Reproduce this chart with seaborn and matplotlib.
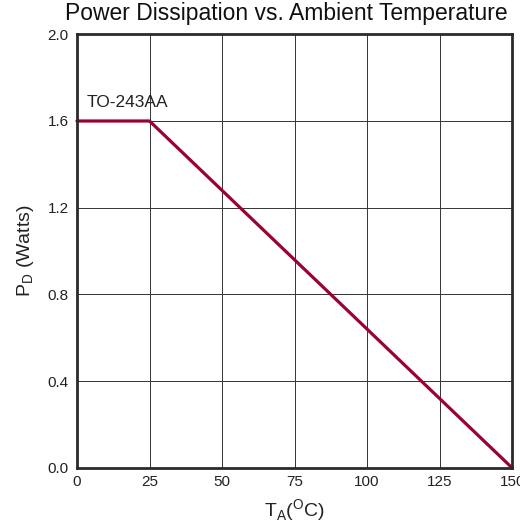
import pandas as pd
import matplotlib
matplotlib.use('Agg')
import matplotlib.pyplot as plt
import seaborn as sns

# derating curve
temp_c = [0, 25, 150]
power_w = [1.6, 1.6, 0.0]
x_ticks = [0, 25, 50, 75, 100, 125, 150]
y_ticks = [0.0, 0.4, 0.8, 1.2, 1.6, 2.0]

df = pd.DataFrame({'temp': temp_c, 'power': power_w})

sns.set_style('white')
plt.rcParams['font.family'] = ['Liberation Sans', 'DejaVu Sans']
plt.rcParams['mathtext.fontset'] = 'custom'
plt.rcParams['mathtext.rm'] = 'Liberation Sans'

fig = plt.figure(figsize=(5.2, 5.27), dpi=100)
ax = fig.add_axes([0.148, 0.112, 0.837, 0.823])

sns.lineplot(data=df, x='temp', y='power', color='#9b0036', linewidth=2.3,
             ax=ax, clip_on=False, zorder=5)

ax.set_xlim(0, 150)
ax.set_ylim(0, 2.0)
ax.set_xticks(x_ticks)
ax.set_xticklabels([str(t) for t in x_ticks])
ax.set_yticks(y_ticks)
ax.set_yticklabels([f'{t:.1f}' for t in y_ticks])
ax.tick_params(axis='both', length=0, labelsize=11, colors='#222222')
ax.tick_params(axis='x', pad=5)
ax.tick_params(axis='y', pad=6)
ax.grid(True, color='#333333', linewidth=0.7)

for s in ax.spines.values():
    s.set_visible(True)
    s.set_color('#2a2a2a')
    s.set_linewidth(2.0)
    s.set_zorder(6)

ax.text(3.4, 1.665, 'TO-243AA', fontsize=12.5, color='#222222', va='baseline')

ax.set_title('Power Dissipation vs. Ambient Temperature', fontsize=16.5,
             color='#111111', pad=10, x=0.48)
ax.set_xlabel(r'T$_{\mathregular{A}}$($^{\mathregular{O}}$C)', fontsize=14,
              color='#222222', labelpad=6)
ax.set_ylabel(r'P$_{\mathregular{D}}$ (Watts)', fontsize=14,
              color='#222222', labelpad=8)

fig.savefig('out.png', dpi=100)
